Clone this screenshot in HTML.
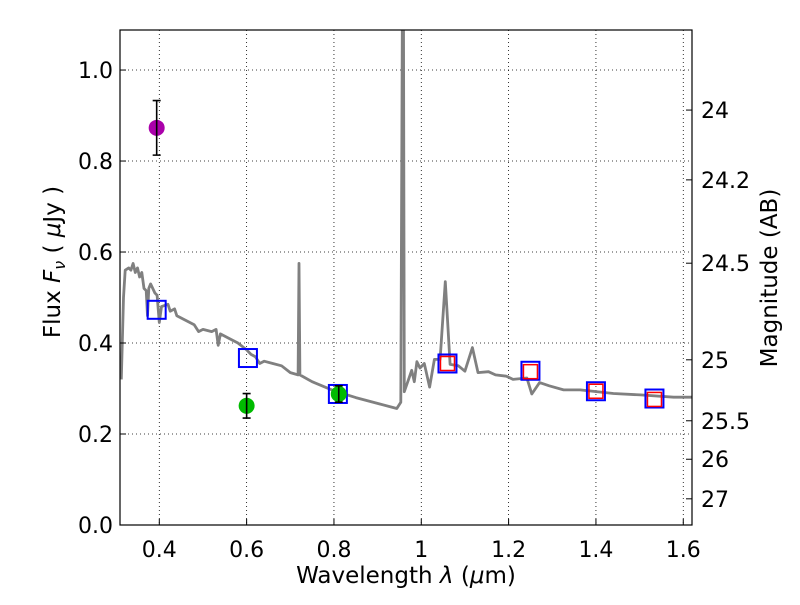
<!DOCTYPE html>
<html><head><meta charset="utf-8"><style>
body{margin:0;background:#fff}
svg text{font-family:"DejaVu Sans","Liberation Sans",sans-serif;fill:#000}
</style></head><body>
<svg id="chart" width="800" height="600" viewBox="0 0 800 600" xmlns="http://www.w3.org/2000/svg">
<rect x="0" y="0" width="800" height="600" fill="#fff"/>
<g id="grid"></g>
<g id="spec"></g>
<g id="marks"></g>
<rect x="120" y="30" width="572" height="495" fill="none" stroke="#000" stroke-width="1.2"/>
<g id="axes"></g>
<text x="406" y="583" font-size="23" text-anchor="middle">Wavelength  <tspan font-style="italic">λ</tspan> (<tspan font-style="italic">μ</tspan>m)</text>
<text transform="translate(60,262) rotate(-90)" font-size="23" text-anchor="middle">Flux  <tspan font-style="italic">F</tspan><tspan font-style="italic" font-size="16" dy="5">ν</tspan><tspan dy="-5">  ( </tspan><tspan font-style="italic">μ</tspan>Jy )</text>
<text transform="translate(777,278) rotate(-90)" font-size="23" text-anchor="middle">Magnitude (AB)</text>
</svg>
<script>
const xTicks=[0.4,0.6,0.8,1,1.2,1.4,1.6];
const xTickLabels=["0.4","0.6","0.8","1","1.2","1.4","1.6"];
const yTicks=[0,0.2,0.4,0.6,0.8,1.0];
const yTickLabels=["0.0","0.2","0.4","0.6","0.8","1.0"];
const magTicks=[24,24.2,24.5,25,25.5,26,27];
const magTickLabels=["24","24.2","24.5","25","25.5","26","27"];
const specWave=[0.313,0.318,0.322,0.33,0.335,0.34,0.345,0.35,0.355,0.36,0.365,0.37,0.373,0.376,0.38,0.39,0.395,0.40,0.405,0.42,0.425,0.435,0.44,0.46,0.48,0.49,0.50,0.52,0.53,0.535,0.54,0.56,0.58,0.60,0.61,0.62,0.63,0.64,0.66,0.68,0.70,0.718,0.72,0.722,0.75,0.80,0.85,0.905,0.944,0.953,0.957,0.959,0.961,0.968,0.978,0.984,0.99,0.997,1.007,1.019,1.030,1.043,1.055,1.066,1.085,1.10,1.117,1.130,1.154,1.17,1.195,1.21,1.242,1.253,1.271,1.293,1.326,1.364,1.44,1.502,1.578,1.62];
const specFlux=[0.32,0.50,0.56,0.565,0.56,0.575,0.555,0.565,0.545,0.555,0.52,0.515,0.46,0.52,0.53,0.51,0.505,0.445,0.48,0.485,0.47,0.475,0.46,0.45,0.44,0.425,0.43,0.425,0.43,0.395,0.42,0.41,0.40,0.385,0.375,0.37,0.355,0.36,0.355,0.35,0.335,0.33,0.575,0.33,0.315,0.295,0.28,0.266,0.256,0.27,1.2,1.2,0.293,0.312,0.34,0.315,0.359,0.345,0.355,0.303,0.364,0.364,0.535,0.353,0.35,0.338,0.39,0.335,0.337,0.33,0.327,0.32,0.323,0.288,0.313,0.306,0.297,0.297,0.289,0.286,0.281,0.281];
const modelWave=[0.394,0.603,0.809,1.060,1.250,1.400,1.534];
const modelFlux=[0.473,0.367,0.288,0.355,0.339,0.294,0.278];
const obsWave=[1.060,1.250,1.400,1.534];
const obsFlux=[0.355,0.337,0.294,0.276];
const ptWave=[0.394,0.600,0.811];
const ptFlux=[0.873,0.262,0.288];
const ptErr=[0.06,0.027,0.018];
const ptColor=["#aa00aa","#00bb00","#00bb00"];

const X0=120,X1=692,Y0=525,Y1=30,xmin=0.31,xmax=1.62,ymin=0,ymax=1.088;
const sx=v=>X0+(v-xmin)/(xmax-xmin)*(X1-X0);
const sy=v=>Y0-(v-ymin)/(ymax-ymin)*(Y0-Y1);
const NS="http://www.w3.org/2000/svg";
function mk(t,a,p){const e=document.createElementNS(NS,t);for(const k in a)e.setAttribute(k,a[k]);p.appendChild(e);return e;}
const grid=document.getElementById('grid'),axes=document.getElementById('axes');
xTicks.forEach((v,i)=>{const x=sx(v);
 const g=mk('line',{x1:x,x2:x,y1:Y1,y2:Y0,stroke:'#000','stroke-width':0.8,'stroke-dasharray':'1,3'},grid);
 
 const t=mk('line',{x1:x,x2:x,y1:Y0,y2:Y0-6,stroke:'#000'},axes);
 
 const l=mk('text',{x:x,y:Y0+32,'font-size':22,'text-anchor':'middle'},axes);l.textContent=xTickLabels[i];
 });
yTicks.forEach((v,i)=>{const y=sy(v);
 const g=mk('line',{x1:X0,x2:X1,y1:y,y2:y,stroke:'#000','stroke-width':0.8,'stroke-dasharray':'1,3'},grid);
 
 const t=mk('line',{x1:X0,x2:X0+6,y1:y,y2:y,stroke:'#000'},axes);
 
 const l=mk('text',{x:X0-7,y:y+8,'font-size':22,'text-anchor':'end'},axes);l.textContent=yTickLabels[i];
 });
magTicks.forEach((m,i)=>{const y=sy(Math.pow(10,(23.9-m)/2.5));
 const t=mk('line',{x1:X1,x2:X1-6,y1:y,y2:y,stroke:'#000'},axes);
 
 const l=mk('text',{x:X1+9,y:y+8,'font-size':22},axes);l.textContent=magTickLabels[i];
 });
const spec=document.getElementById('spec');
const pts=specWave.map((w,i)=>sx(w).toFixed(1)+','+sy(Math.min(specFlux[i],1.2)).toFixed(1)).join(' ');
const cp=mk('clipPath',{id:'clip'},spec);mk('rect',{x:X0,y:Y1,width:X1-X0,height:Y0-Y1},cp);
const pl=mk('polyline',{points:pts,fill:'none',stroke:'#808080','stroke-width':2.8,'stroke-linejoin':'round','clip-path':'url(#clip)'},spec);

const marks=document.getElementById('marks');
modelWave.forEach((w,i)=>{const x=sx(w),y=sy(modelFlux[i]);
 const r=mk('rect',{x:x-9,y:y-9,width:18,height:18,fill:'none',stroke:'#0000ff','stroke-width':2},marks);
 });
obsWave.forEach((w,i)=>{const x=sx(w),y=sy(obsFlux[i]);
 const r=mk('rect',{x:x-7,y:y-7,width:14,height:14,fill:'none',stroke:'#ff0000','stroke-width':1.5},marks);
 });
ptWave.forEach((w,i)=>{const x=sx(w),y=sy(ptFlux[i]);
 const c=mk('circle',{cx:x,cy:y,r:8,fill:ptColor[i]},marks);
 
 const y1=sy(ptFlux[i]+ptErr[i]),y2=sy(ptFlux[i]-ptErr[i]);
 const e=mk('path',{d:`M${x},${y1}V${y2}M${x-4},${y1}H${x+4}M${x-4},${y2}H${x+4}`,stroke:'#000','stroke-width':1.6,fill:'none'},marks);
 });
</script>
</body></html>
